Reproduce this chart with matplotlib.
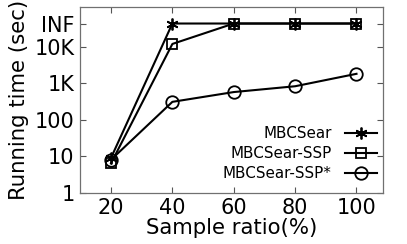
import matplotlib
matplotlib.use("Agg")
import matplotlib.pyplot as plt

# data
ratios = [20, 40, 60, 80, 100]
INF = 43600
mbcsear = [9, INF, INF, INF, INF]
mbcsear_ssp = [6.4, 12000, INF, INF, INF]
mbcsear_ssp_star = [8, 310, 575, 830, 1820]

ytick_vals = [1, 10, 100, 1000, 10000, INF]
ytick_labels = ["1", "10", "100", "1K", "10K", "INF"]

plt.rcParams["font.family"] = "DejaVu Sans"

fig = plt.figure(figsize=(4.07, 2.44), dpi=100)
ax = fig.add_axes([0.1966, 0.2103, 0.7434, 0.7622])

style = dict(color="black", lw=1.5, markerfacecolor="none", markeredgecolor="black",
             markeredgewidth=1.3)
ax.plot(ratios, mbcsear, marker=(6, 2, 0), ms=8.5, label="MBCSear", **style)
ax.plot(ratios, mbcsear_ssp, marker="s", ms=7.5, label="MBCSear-SSP", **style)
ax.plot(ratios, mbcsear_ssp_star, marker="o", ms=9, label="MBCSear-SSP*", **style)

ax.set_yscale("log")
ax.set_ylim(1, 126000)
ax.set_xlim(9.9, 108.5)
ax.set_yticks(ytick_vals)
ax.set_yticklabels(ytick_labels)
ax.minorticks_off()
ax.set_xticks(ratios)

ax.tick_params(direction="in", length=4, width=0.8, color="#555555",
               labelsize=15, top=True, right=True, pad=4)
for s in ax.spines.values():
    s.set_color("#707070")
    s.set_linewidth(0.9)

ax.set_xlabel("Sample ratio(%)", fontsize=15.3, labelpad=0)
ax.set_ylabel("Running time (sec)", fontsize=15.3, labelpad=4)

ax.legend(loc="lower right", bbox_to_anchor=(1.0, 0.03), frameon=False,
          markerfirst=False, fontsize=10.9, handlelength=2.1, handletextpad=0.85,
          labelspacing=0.32, borderaxespad=0)

fig.savefig("out.png", dpi=100)
